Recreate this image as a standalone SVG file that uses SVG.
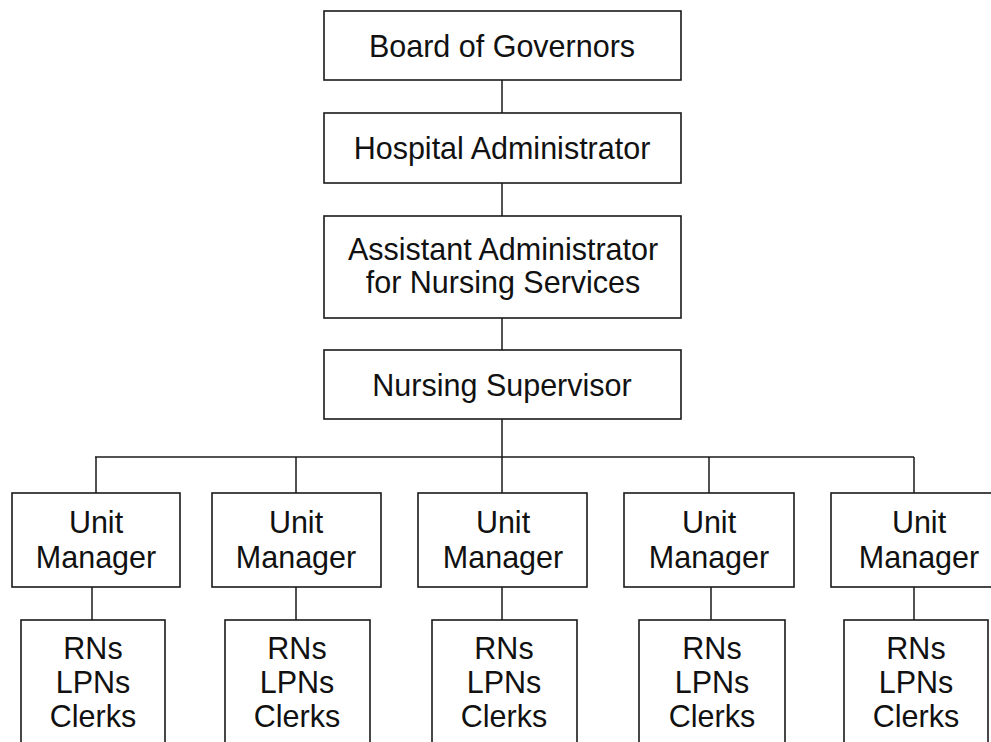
<svg xmlns="http://www.w3.org/2000/svg" width="991" height="742" viewBox="0 0 991 742">
  <style>
    .box { fill: #fff; stroke: #1a1a1a; stroke-width: 1.6; }
    .ln { fill: none; stroke: #1a1a1a; stroke-width: 1.5; }
    text { font-family: "Liberation Sans", Arial, Helvetica, sans-serif; font-size: 30.5px; fill: #111; text-anchor: middle; }
  </style>
  <rect width="991" height="742" fill="#fff"/>

  <!-- connectors -->
  <g id="connectors">
    <path class="ln" d="M502 80 V113 M502 183 V216 M502 318 V350 M502 419 V493"/>
    <path class="ln" d="M95 457 H914"/>
    <path class="ln" d="M96 457 V493 M296 457 V493 M709 457 V493 M914 457 V493"/>
    <path class="ln" d="M92 587 V620 M296 587 V620 M502 587 V620 M711 587 V620 M914 587 V620"/>
  </g>

  <!-- top chain -->
  <g id="board">
    <rect class="box" x="324" y="11" width="357" height="69"/>
    <text x="502" y="57">Board of Governors</text>
  </g>
  <g id="hospital-admin">
    <rect class="box" x="324" y="113" width="357" height="70"/>
    <text x="502" y="159">Hospital Administrator</text>
  </g>
  <g id="assistant-admin">
    <rect class="box" x="324" y="216" width="357" height="102"/>
    <text x="503" y="260">Assistant Administrator</text>
    <text x="503" y="293">for Nursing Services</text>
  </g>
  <g id="nursing-supervisor">
    <rect class="box" x="324" y="350" width="357" height="69"/>
    <text x="502" y="396">Nursing Supervisor</text>
  </g>

  <!-- unit managers -->
  <g id="um1">
    <rect class="box" x="12" y="493" width="168" height="94"/>
    <text x="96" y="533">Unit</text>
    <text x="96" y="568">Manager</text>
  </g>
  <g id="um2">
    <rect class="box" x="212" y="493" width="169" height="94"/>
    <text x="296" y="533">Unit</text>
    <text x="296" y="568">Manager</text>
  </g>
  <g id="um3">
    <rect class="box" x="418" y="493" width="169" height="94"/>
    <text x="503" y="533">Unit</text>
    <text x="503" y="568">Manager</text>
  </g>
  <g id="um4">
    <rect class="box" x="624" y="493" width="170" height="94"/>
    <text x="709" y="533">Unit</text>
    <text x="709" y="568">Manager</text>
  </g>
  <g id="um5">
    <rect class="box" x="831" y="493" width="170" height="94"/>
    <text x="919" y="533">Unit</text>
    <text x="919" y="568">Manager</text>
  </g>

  <!-- staff boxes -->
  <g id="staff1">
    <rect class="box" x="21" y="620" width="144" height="140"/>
    <text x="93" y="659">RNs</text>
    <text x="93" y="693">LPNs</text>
    <text x="93" y="727">Clerks</text>
  </g>
  <g id="staff2">
    <rect class="box" x="225" y="620" width="145" height="140"/>
    <text x="297" y="659">RNs</text>
    <text x="297" y="693">LPNs</text>
    <text x="297" y="727">Clerks</text>
  </g>
  <g id="staff3">
    <rect class="box" x="432" y="620" width="145" height="140"/>
    <text x="504" y="659">RNs</text>
    <text x="504" y="693">LPNs</text>
    <text x="504" y="727">Clerks</text>
  </g>
  <g id="staff4">
    <rect class="box" x="639" y="620" width="146" height="140"/>
    <text x="712" y="659">RNs</text>
    <text x="712" y="693">LPNs</text>
    <text x="712" y="727">Clerks</text>
  </g>
  <g id="staff5">
    <rect class="box" x="844" y="620" width="144" height="140"/>
    <text x="916" y="659">RNs</text>
    <text x="916" y="693">LPNs</text>
    <text x="916" y="727">Clerks</text>
  </g>
</svg>
